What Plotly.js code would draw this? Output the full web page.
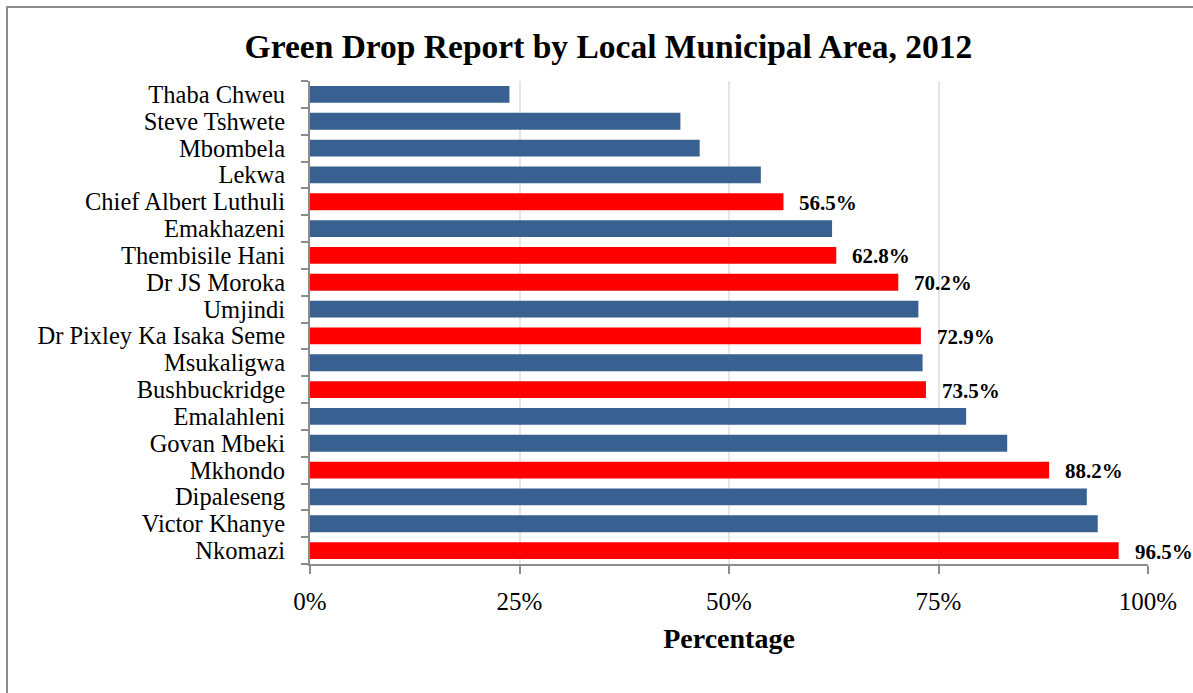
<!DOCTYPE html>
<html>
<head>
<meta charset="utf-8">
<script src="https://cdn.plot.ly/plotly-3.0.1.min.js"></script>
<style>
  html, body { margin: 0; padding: 0; background: #fff; overflow: hidden; }
  #frame { position: absolute; left: 6px; top: 6px; width: 1300px; height: 800px; border: 2px solid #8c8c8c; box-sizing: border-box; }
  #chart { position: absolute; left: 0; top: 0; width: 1193px; height: 693px; }
</style>
</head>
<body>
<div id="frame"></div>
<div id="chart"></div>
<script>
const municipalities = [
  "Thaba Chweu", "Steve Tshwete", "Mbombela", "Lekwa", "Chief Albert Luthuli",
  "Emakhazeni", "Thembisile Hani", "Dr JS Moroka", "Umjindi", "Dr Pixley Ka Isaka Seme",
  "Msukaligwa", "Bushbuckridge", "Emalahleni", "Govan Mbeki", "Mkhondo",
  "Dipaleseng", "Victor Khanye", "Nkomazi"
];
const scores = [
  23.8, 44.2, 46.5, 53.8, 56.5,
  62.3, 62.8, 70.2, 72.6, 72.9,
  73.1, 73.5, 78.3, 83.2, 88.2,
  92.7, 94.0, 96.5
];
const highlighted = [
  false, false, false, false, true,
  false, true, true, false, true,
  false, true, false, false, true,
  false, false, true
];
const xTickValues = [0, 25, 50, 75, 100];
const xTickLabels = ["0%", "25%", "50%", "75%", "100%"];

const BLUE = "#386192";
const RED = "#ff0000";
const serif = "'Liberation Serif', 'DejaVu Serif', serif";

const trace = {
  type: "bar",
  orientation: "h",
  y: municipalities,
  x: scores,
  marker: { color: highlighted.map(h => h ? RED : BLUE) },
  hoverinfo: "x+y"
};

const annotations = municipalities
  .map((m, i) => ({ m, v: scores[i], h: highlighted[i] }))
  .filter(d => d.h)
  .map(d => ({
    x: d.v, y: d.m, xref: "x", yref: "y",
    text: d.v.toFixed(1) + "%",
    showarrow: false, xanchor: "left", yanchor: "middle",
    xshift: 14, yshift: -1,
    font: { family: serif, size: 21, color: "#000", weight: "bold" }
  }));

const layout = {
  width: 1193, height: 693,
  paper_bgcolor: "rgba(0,0,0,0)",
  plot_bgcolor: "rgba(0,0,0,0)",
  margin: { l: 309.5, r: 44.5, t: 80.5, b: 128.5 },
  bargap: 0.37,
  showlegend: false,
  title: {
    text: "<b>Green Drop Report by Local Municipal Area, 2012</b>",
    font: { family: serif, size: 33.5, color: "#000" },
    x: 0.51, xanchor: "center", y: 0.933, yanchor: "middle", xref: "container", yref: "container"
  },
  xaxis: {
    range: [0, 100],
    tickvals: xTickValues,
    ticktext: xTickLabels,
    tickfont: { family: serif, size: 25, color: "#000" },
    ticks: "outside", ticklen: 8, tickwidth: 2, tickcolor: "#8c8c8c",
    showline: true, linecolor: "#8c8c8c", linewidth: 2,
    showgrid: true, gridcolor: "#e6e6e6", gridwidth: 2,
    zeroline: false,
    ticklabelstandoff: 6,
    title: { text: "<b>Percentage</b>", font: { family: serif, size: 28, color: "#000" }, standoff: 14 },
    fixedrange: true
  },
  yaxis: {
    type: "category",
    autorange: "reversed",
    tickmode: "array",
    tickvals: municipalities,
    ticktext: municipalities,
    tickfont: { family: serif, size: 24.5, color: "#000" },
    ticks: "outside", ticklen: 7, tickwidth: 2, tickcolor: "#8c8c8c",
    tickson: "boundaries",
    showline: true, linecolor: "#8c8c8c", linewidth: 2,
    showgrid: false, zeroline: false,
    ticklabelstandoff: 18,
    fixedrange: true
  },
  annotations: annotations
};

Plotly.newPlot("chart", [trace], layout, { displayModeBar: false, staticPlot: true });
</script>
</body>
</html>
